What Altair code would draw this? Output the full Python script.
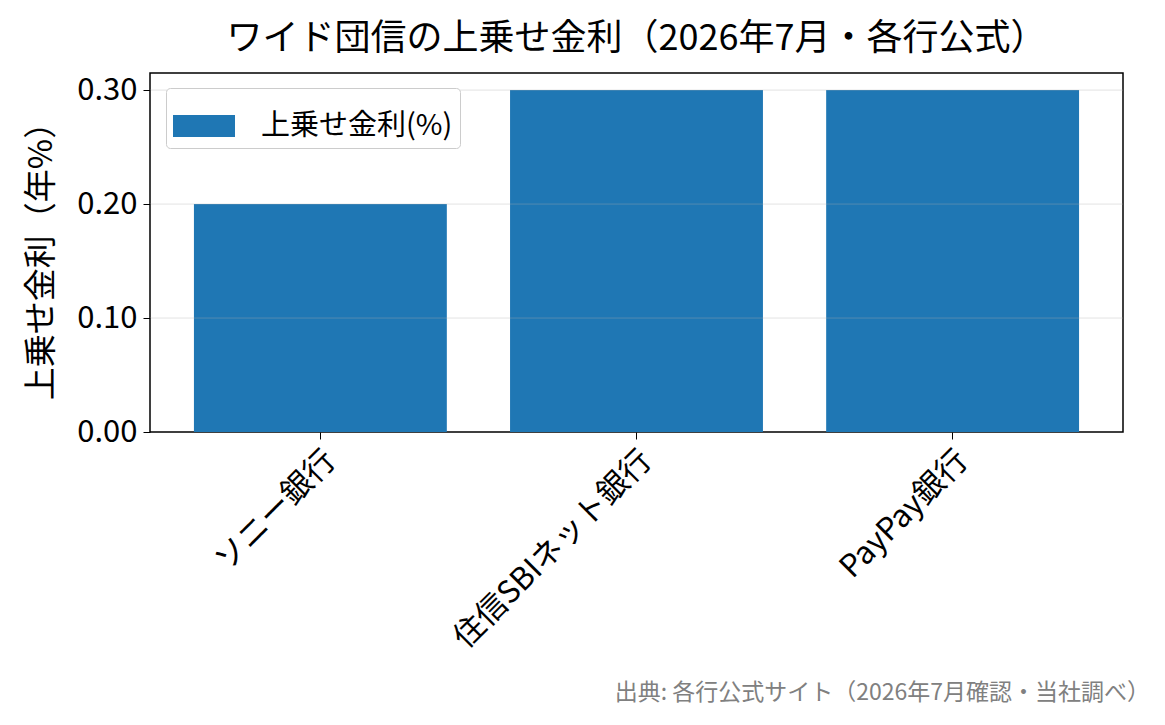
import altair as alt
import pandas as pd

banks = ['ソニー銀行', '住信SBIネット銀行', 'PayPay銀行']
spread = [0.20, 0.30, 0.30]
series = '上乗せ金利(%)'
y_ticks = [0.0, 0.1, 0.2, 0.3]
footer = '出典: 各行公式サイト（2026年7月確認・当社調べ）'

FONT = 'Noto Sans CJK JP'

df = pd.DataFrame({'bank': banks, 'value': spread, 'series': series})
grid_df = pd.DataFrame({'y': y_ticks[1:]})

bars = alt.Chart(df).mark_bar(color='#1f77b4').encode(
    x=alt.X('bank:N', sort=banks, title=None,
            scale=alt.Scale(paddingInner=0.2, paddingOuter=0.139),
            axis=alt.Axis(labelAngle=-45, labelAlign='right', labelBaseline='top',
                          labelFontSize=31, labelPadding=6, labelLimit=0, tickSize=7,
                          tickColor='black', domain=False, labelColor='black')),
    y=alt.Y('value:Q', title='上乗せ金利（年%）',
            scale=alt.Scale(domain=[0, 0.315], nice=False, zero=True),
            axis=alt.Axis(values=y_ticks, format='.2f', labelFontSize=31,
                          titleFontSize=33, titleFontWeight='normal', titlePadding=18,
                          tickSize=7, tickColor='black', domain=False, grid=False,
                          labelColor='black', titleColor='black', labelPadding=6)),
    color=alt.Color('series:N', scale=alt.Scale(range=['#1f77b4']),
                    legend=alt.Legend(title=None, orient='none', legendX=16, legendY=15,
                                      labelFontSize=29, labelOffset=26, labelLimit=0,
                                      symbolType='M-1,-0.355H1V0.355H-1Z',
                                      symbolSize=3844, symbolStrokeWidth=0,
                                      symbolOpacity=1,
                                      padding=7, strokeColor='#cccccc',
                                      cornerRadius=4, fillColor='white',
                                      labelColor='black'))
)

grid = alt.Chart(grid_df).mark_rule(color='#b0b0b0', opacity=0.35, strokeWidth=1).encode(
    y='y:Q'
)

note = alt.Chart(pd.DataFrame({'t': [footer]})).mark_text(
    align='right', baseline='middle', fontSize=23, color='#808080', font=FONT
).encode(
    x=alt.value(1000), y=alt.value(620), text='t:N'
)

chart = alt.layer(bars, grid, note).properties(
    width=973, height=359,
    title=alt.TitleParams('ワイド団信の上乗せ金利（2026年7月・各行公式）',
                          fontSize=36, fontWeight='normal', offset=15, color='black'),
    autosize=alt.AutoSizeParams(type='none'),
    padding={'left': 142, 'top': 65, 'right': 34, 'bottom': 285}
).configure(font=FONT).configure_view(stroke='black', strokeWidth=1.5)

chart.save('out.html', embed_options={'renderer': 'svg', 'actions': False})
